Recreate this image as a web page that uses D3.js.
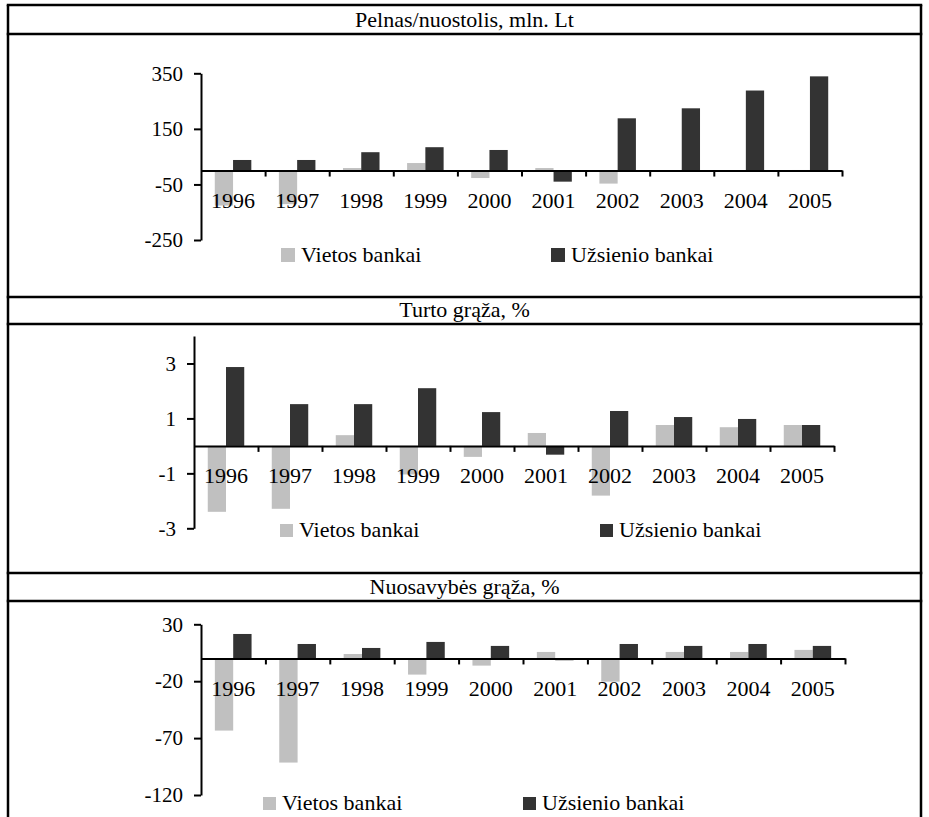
<!DOCTYPE html>
<html>
<head>
<meta charset="utf-8">
<script src="https://cdn.jsdelivr.net/npm/d3@7"></script>
<style>
  body { margin: 0; background: #fff; }
  svg text { font-family: "Liberation Serif", "Times New Roman", serif; fill: #000; }
</style>
</head>
<body>
<svg id="canvas"></svg>
<script>
// categories and series
const years = ["1996", "1997", "1998", "1999", "2000", "2001", "2002", "2003", "2004", "2005"];
const seriesNames = ["Vietos bankai", "Užsienio bankai"];
const seriesColors = ["#c0c0c0", "#333333"];

// Pelnas/nuostolis, mln. Lt
const profitLocal = [-126, -121, 9, 27, -27, 9, -47, 1, 1, 2];
const profitForeign = [38, 38, 66, 84, 74, -40, 188, 224, 288, 339];
const profitTicks = [-250, -50, 150, 350];

// Turto grąža, %
const roaLocal = [-2.4, -2.29, 0.39, -1.04, -0.4, 0.47, -1.81, 0.76, 0.68, 0.76];
const roaForeign = [2.87, 1.52, 1.52, 2.1, 1.23, -0.32, 1.27, 1.05, 0.98, 0.76];
const roaTicks = [-3, -1, 1, 3];

// Nuosavybės grąža, %
const roeLocal = [-63.4, -91.5, 3.9, -14.2, -6.3, 5.7, -20.4, 5.7, 5.7, 7.5];
const roeForeign = [21.5, 12.7, 9.2, 14.5, 11, -1.6, 12.7, 11, 12.7, 11];
const roeTicks = [-120, -70, -20, 30];

const titles = ["Pelnas/nuostolis, mln. Lt", "Turto grąža, %", "Nuosavybės grąža, %"];

// page geometry
const width = 929;
const height = 817;
const frameLeft = 8;
const frameRight = 921;

let canvas = d3.select("#canvas")
  .attr("width", width)
  .attr("height", height);

// layout of each panel (pixels)
const panels = [
  { title: titles[0], local: profitLocal, foreign: profitForeign, ticks: profitTicks,
    domain: [-250, 350], rowTop: 5, rowBottom: 34,
    x0: 201, x1: 842, yTop: 73.3, yBottom: 240,
    legendY: 248, box: 14, legendX: [281, 551] },
  { title: titles[1], local: roaLocal, foreign: roaForeign, ticks: roaTicks,
    domain: [-3, 4], rowTop: 297, rowBottom: 324,
    x0: 194, x1: 834, yTop: 336, yBottom: 528.3,
    legendY: 524, box: 13, legendX: [280, 600] },
  { title: titles[2], local: roeLocal, foreign: roeForeign, ticks: roeTicks,
    domain: [-120, 30], rowTop: 573, rowBottom: 601,
    x0: 201, x1: 845, yTop: 624.3, yBottom: 795,
    legendY: 797, box: 13, legendX: [263, 523] }
];

// table frame
let frame = canvas.append("g").attr("class", "frame")
  .attr("stroke", "#000").attr("stroke-width", 2.5);

panels.forEach((p) => {
  [p.rowTop, p.rowBottom].forEach((yy) => {
    frame.append("line")
      .attr("x1", frameLeft - 1.25).attr("x2", frameRight + 1.25)
      .attr("y1", yy).attr("y2", yy);
  });
});
[frameLeft, frameRight].forEach((xx) => {
  frame.append("line")
    .attr("x1", xx).attr("x2", xx)
    .attr("y1", panels[0].rowTop).attr("y2", height);
});

let drawPanel = (p) => {
  let g = canvas.append("g");

  // title
  g.append("text")
    .attr("x", (frameLeft + frameRight) / 2)
    .attr("y", p.rowBottom - 7)
    .attr("text-anchor", "middle")
    .style("font-size", "22px")
    .text(p.title);

  let xScale = d3.scaleBand()
    .domain(years)
    .range([p.x0, p.x1]);

  let bw = xScale.bandwidth();
  let seriesScale = d3.scaleBand()
    .domain(seriesNames)
    .range([bw * 0.215, bw * 0.785]);

  let yScale = d3.scaleLinear()
    .domain(p.domain)
    .range([p.yBottom, p.yTop]);

  let cellDatas = [];
  years.forEach((yr, i) => {
    cellDatas.push({ year: yr, series: seriesNames[0], value: p.local[i], color: seriesColors[0] });
    cellDatas.push({ year: yr, series: seriesNames[1], value: p.foreign[i], color: seriesColors[1] });
  });

  g.selectAll("rect.bar")
    .data(cellDatas)
    .enter()
    .append("rect")
    .attr("class", "bar")
    .attr("x", (d) => xScale(d.year) + seriesScale(d.series))
    .attr("width", seriesScale.bandwidth())
    .attr("y", (d) => yScale(Math.max(0, d.value)))
    .attr("height", (d) => Math.abs(yScale(d.value) - yScale(0)))
    .attr("fill", (d) => d.color);

  // y axis (plain hyphen minus, no decimals)
  let yAxis = d3.axisLeft(yScale)
    .tickValues(p.ticks)
    .tickFormat((d) => String(d))
    .tickSize(7)
    .tickSizeOuter(0)
    .tickPadding(11);

  let ya = g.append("g")
    .attr("transform", `translate(${p.x0}, 0)`)
    .call(yAxis);
  ya.selectAll("text").style("font-size", "21px");

  // x axis with tick marks between categories
  let xIndex = d3.scaleLinear().domain([0, years.length]).range([p.x0, p.x1]);
  let xAxis = d3.axisBottom(xIndex)
    .tickValues(d3.range(1, years.length + 1))
    .tickSize(6)
    .tickSizeOuter(0)
    .tickFormat("");

  let xa = g.append("g")
    .attr("transform", `translate(0, ${yScale(0)})`)
    .call(xAxis);

  // year labels
  let labelAxis = d3.axisBottom(xScale).tickSize(0).tickPadding(22);
  let la = g.append("g")
    .attr("transform", `translate(0, ${yScale(0)})`)
    .call(labelAxis);
  la.select(".domain").remove();
  la.selectAll("text").style("font-size", "22px");

  [ya, xa].forEach((a) => {
    a.select(".domain").attr("stroke-width", 2);
    a.selectAll(".tick line").attr("stroke-width", 2);
  });

  // legend
  seriesNames.forEach((name, i) => {
    g.append("rect")
      .attr("x", p.legendX[i])
      .attr("y", p.legendY)
      .attr("width", p.box)
      .attr("height", p.box)
      .attr("fill", seriesColors[i]);
    g.append("text")
      .attr("x", p.legendX[i] + p.box + 6)
      .attr("y", p.legendY + p.box)
      .style("font-size", "22px")
      .text(name);
  });
};

panels.forEach(drawPanel);
</script>
</body>
</html>
